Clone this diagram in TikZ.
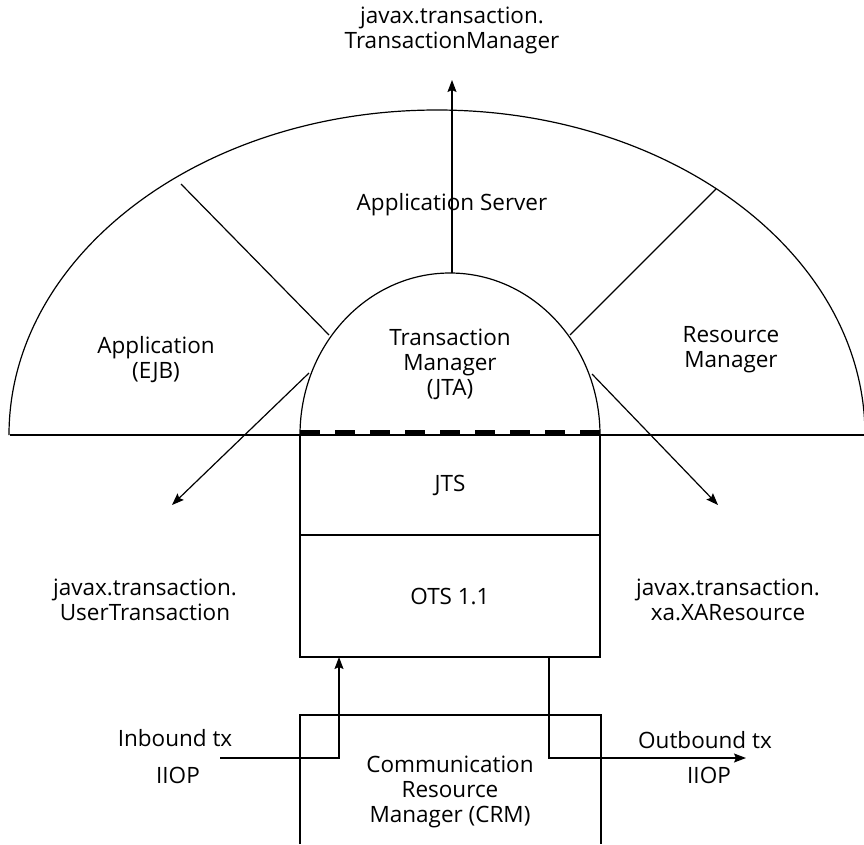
\documentclass[tikz,border=0pt]{standalone}
\usepackage{fontspec}
\setmainfont{Open Sans}
\usetikzlibrary{arrows.meta}
\begin{document}
\begin{tikzpicture}[
        x=1pt, y=1pt, yscale=-1,
        line width=1.2pt,
        txt/.style={font=\fontsize{22.5}{25}\selectfont, align=center, inner sep=0pt},
        box/.style={rectangle, draw, line width=1.2pt, minimum width=300pt, inner sep=0pt},
        arrow/.style={-{Stealth[length=12pt, width=9pt, inset=2pt]}},
        dashline/.style={line width=6pt, dash pattern=on 20pt off 15pt}
    ]
    \useasboundingbox (0,0) rectangle (864,844);
    % shells of the server
    \draw (9,435) arc[start angle=180, end angle=360, x radius=428, y radius=325];
    \draw (300,435) arc[start angle=180, end angle=360, x radius=150, y radius=162];
    \node[box, minimum height=100pt] (jts) at (450,485) {};
    \node[box, minimum height=122pt] (ots) at (450,596) {};
    \draw (10,435) -- (864,435);
    \draw[dashline] (300,433) -- (600,433);
    \coordinate (tmtop) at (452,273);
    \coordinate (tmapitip) at (452,80);
    \coordinate (appa) at (181,184);
    \coordinate (appb) at (329,335);
    \coordinate (rma) at (716,189);
    \coordinate (rmb) at (570,335);
    \coordinate (utxfrom) at (309,373);
    \coordinate (utxtip) at (172,505);
    \coordinate (xafrom) at (592,374);
    \coordinate (xatip) at (718,505);
    \coordinate (crmbl) at (300,844);
    \coordinate (crmtr) at (601,715);
    \coordinate (crmbr) at (601,844);
    \coordinate (inleft) at (220,758);
    \coordinate (inup) at (339,657);
    \coordinate (outdown) at (549,657);
    \coordinate (outright) at (746,758);
    \node[txt] (tmapi) at (452,30) {javax.transaction.\\TransactionManager};
    \node[txt] (appserver) at (452,205) {Application Server};
    \node[txt] (app) at (156,360) {Application\\(EJB)};
    \node[txt] (tm) at (450,364) {Transaction\\Manager\\(JTA)};
    \node[txt] (rm) at (731,350) {Resource\\Manager};
    \node[txt] at (jts) {JTS};
    \node[txt] at (ots) {OTS 1.1};
    \node[txt] (utx) at (145,600) {javax.transaction.\\UserTransaction};
    \node[txt] (xares) at (728,600) {javax.transaction.\\xa.XAResource};
    \node[txt] (crm) at (450,792) {Communication\\Resource\\Manager (CRM)};
    \node[txt] (intx) at (175,738) {Inbound tx};
    \node[txt] (iniiop) at (178,775) {IIOP};
    \node[txt] (outtx) at (705,740) {Outbound tx};
    \node[txt] (outiiop) at (709,775) {IIOP};
    \draw[arrow] (tmtop) -- (tmapitip);
    \draw (appa) -- (appb);
    \draw (rma) -- (rmb);
    \draw[arrow] (utxfrom) -- (utxtip);
    \draw[arrow] (xafrom) -- (xatip);
    \draw (crmbl) |- (crmtr) -- (crmbr);
    \draw[arrow] (inleft) -| (inup);
    \draw[arrow] (outdown) |- (outright);
\end{tikzpicture}
\end{document}
